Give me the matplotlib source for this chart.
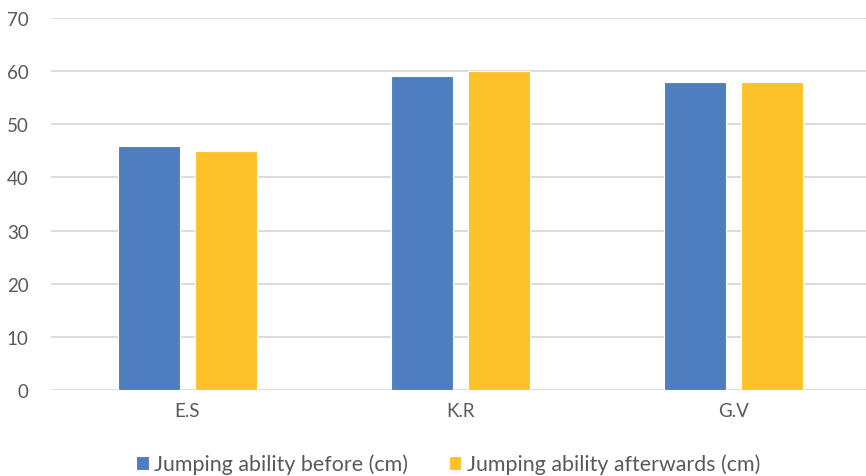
import numpy as np
import matplotlib.pyplot as plt

# データ
categories = ["E.S", "K.R", "G.V"]
before = [46, 59, 58]
after = [45, 60, 58]
labels = ["Jumping ability before (cm)", "Jumping ability afterwards (cm)"]

plt.rcParams['font.family'] = ['Lato', 'DejaVu Sans']
txt = '#595959'

fig = plt.figure(figsize=(8.66, 4.77), dpi=100)
ax = fig.add_axes([51/866, 1-391/477, 819/866, 372/477])

x = np.arange(len(categories))
w = 0.227
off = 0.142
ax.bar(x - off, before, w, color='#4E7EBE', edgecolor='white', linewidth=0.8, label=labels[0], zorder=3)
ax.bar(x + off, after, w, color='#FDC22A', edgecolor='white', linewidth=0.8, label=labels[1], zorder=3)

ax.set_xlim(-0.5, 2.5)
ax.set_ylim(0, 70)
ax.set_yticks(range(0, 71, 10))
ax.set_xticks(x)
ax.set_xticklabels(categories)
ax.yaxis.grid(True, color='#D9D9D9', linewidth=1.3, zorder=0)
for s in ax.spines.values():
    s.set_visible(False)
ax.tick_params(length=0, colors=txt, labelsize=13.5)
ax.tick_params(axis='y', pad=16)
ax.tick_params(axis='x', pad=9)

fig.legend(loc='center', bbox_to_anchor=(448/866, 1-465/477), ncol=2, frameon=False,
           fontsize=15.4, labelcolor=txt, handlelength=0.6, handleheight=0.6,
           handletextpad=0.25, columnspacing=1.9)

fig.savefig("out.png", dpi=100)
